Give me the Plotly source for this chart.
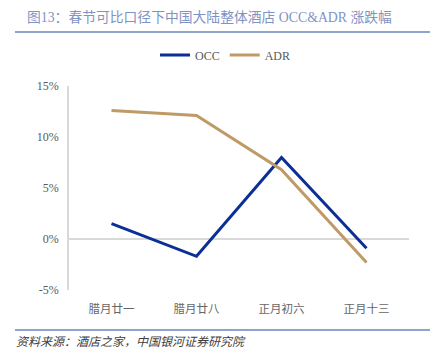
import plotly.graph_objects as go

categories = ["腊月廿一", "腊月廿八", "正月初六", "正月十三"]
occ = [1.5, -1.7, 8.0, -0.9]
adr = [12.6, 12.1, 6.8, -2.3]
tick_vals = [-5, 0, 5, 10, 15]
tick_text = ["-5%", "0%", "5%", "10%", "15%"]

FONT = "Liberation Serif, Noto Sans CJK SC, serif"

fig = go.Figure()
fig.add_trace(go.Scatter(x=categories, y=occ, mode="lines", name="OCC",
                         line=dict(color="#0b2f94", width=3)))
fig.add_trace(go.Scatter(x=categories, y=adr, mode="lines", name="ADR",
                         line=dict(color="#bf9a66", width=3)))

def py(pix):
    return (290 - pix) / 204

def px(pix):
    return (pix - 69) / 340

fig.update_layout(
    width=440, height=359,
    margin=dict(l=61, r=39, t=78, b=77, autoexpand=False),
    plot_bgcolor="white", paper_bgcolor="white",
    font=dict(family=FONT, size=12, color="#595959"),
    showlegend=True,
    legend=dict(orientation="h", x=px(155), xanchor="left", y=py(55), yanchor="middle",
                font=dict(size=12, color="#595959"),
                bgcolor="rgba(0,0,0,0)"),
    xaxis=dict(showgrid=False, showline=False, ticks="", zeroline=False,
               range=[-0.5, 3.5], ticklabelstandoff=10,
               tickfont=dict(size=11.5, color="#666666")),
    yaxis=dict(range=[-5, 15], tickvals=tick_vals, ticktext=tick_text,
               showgrid=False, zeroline=True, zerolinecolor="#d9d9d9", zerolinewidth=1.5,
               showline=True, linecolor="#d9d9d9", linewidth=1.5, ticks="",
               ticklabelstandoff=6,
               tickfont=dict(size=12, color="#595959")),
    annotations=[
        dict(text="图13：春节可比口径下中国大陆整体酒店 OCC&ADR 涨跌幅",
             xref="paper", yref="paper", x=px(25), y=py(17),
             xanchor="left", yanchor="middle", showarrow=False,
             font=dict(family=FONT, size=13.8, color="#7f93c4")),
        dict(text="<i>资料来源：酒店之家，中国银河证券研究院</i>",
             xref="paper", yref="paper", x=px(14), y=py(342),
             xanchor="left", yanchor="middle", showarrow=False,
             font=dict(family=FONT, size=12, color="#404040")),
    ],
    shapes=[
        dict(type="line", xref="paper", yref="paper",
             x0=px(15), x1=px(430), y0=py(32), y1=py(32),
             line=dict(color="#8fa3cf", width=2)),
        dict(type="line", xref="paper", yref="paper",
             x0=px(15), x1=px(430), y0=py(330), y1=py(330),
             line=dict(color="#8fa3cf", width=2)),
    ],
)

fig.write_html("out.html")
